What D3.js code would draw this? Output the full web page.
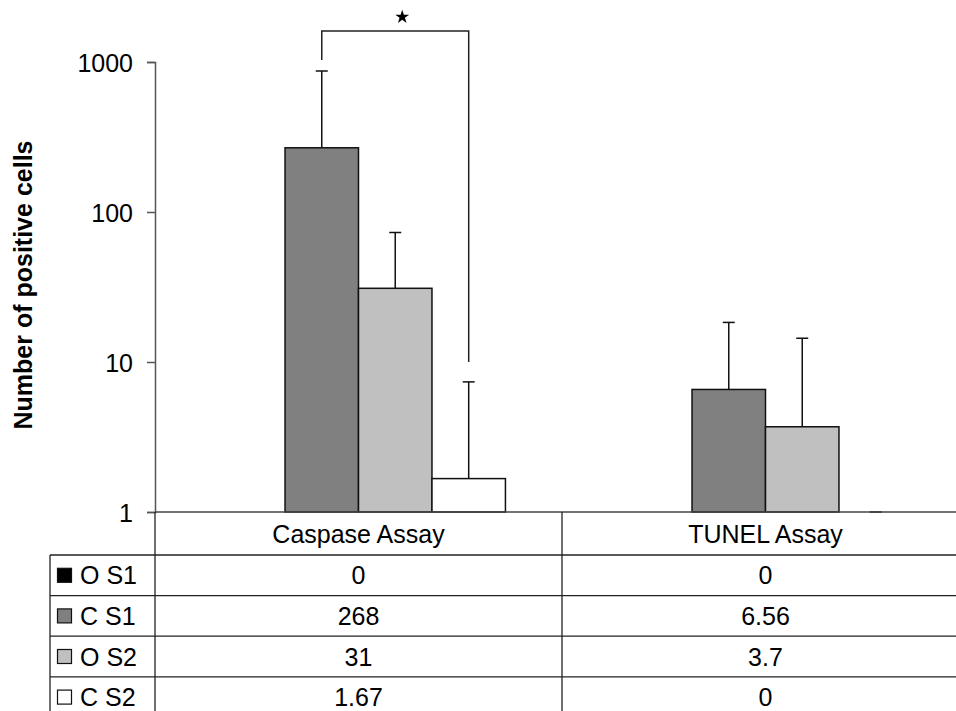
<!DOCTYPE html>
<html>
<head>
<meta charset="utf-8">
<script src="https://cdn.jsdelivr.net/npm/d3@7"></script>
<style>
  body { margin: 0; background: #fff; }
  text { font-family: "Liberation Sans", Arial, sans-serif; fill: #000; }
</style>
</head>
<body>
<svg id="chart" width="956" height="711"></svg>
<script>
// data
const categories = ["Caspase Assay", "TUNEL Assay"]
const series = ["O S1", "C S1", "O S2", "C S2"]
const colors = ["#000000", "#808080", "#c0c0c0", "#ffffff"]
const values = [
  [0, 0],        // O S1
  [268, 6.56],   // C S1
  [31, 3.7],     // O S2
  [1.67, 0]      // C S2
]
const tableLabels = [
  ["0", "0"],
  ["268", "6.56"],
  ["31", "3.7"],
  ["1.67", "0"]
]
// upper error amounts (null = no bar)
const errors = [
  [null, null],
  [603, 11.8],
  [42, 10.7],
  [5.7, 0]
]
const yTicks = [1, 10, 100, 1000]
// significance bracket: from C S1 to C S2 in Caspase
const bracket = { cat: "Caspase Assay", from: "C S1", to: "C S2", top: 1610, leftEnd: 1030, rightEnd: 10 }

const svg = d3.select("#chart")
const margin = { left: 155, right: -13, top: 62, bottom: 199 }
const W = 956, H = 711
const axisY = H - margin.bottom
const fs = "25px"

const x0 = d3.scaleBand().domain(categories).range([margin.left, W - margin.right])
const x1 = d3.scaleBand().domain(series).range([0, x0.bandwidth()]).paddingInner(0).paddingOuter(0.77)
const y = d3.scaleLog().domain([1, 1000]).range([axisY, margin.top]).clamp(true)
const yFree = y.copy().clamp(false)

// y axis
const yAxis = d3.axisLeft(y).tickValues(yTicks).tickFormat(d3.format("d")).tickSize(8).tickPadding(14)
const gy = svg.append("g").attr("transform", `translate(${margin.left},0)`).call(yAxis)
gy.select(".domain").attr("stroke", "#555").attr("stroke-width", 1.5)
gy.selectAll(".tick line").attr("stroke", "#555").attr("stroke-width", 1.5)
gy.selectAll(".tick text").style("font-size", fs).attr("dy", "0.36em")

svg.append("text")
  .attr("transform", `translate(32,${(axisY + margin.top) / 2 - 2}) rotate(-90)`)
  .attr("text-anchor", "middle")
  .style("font-size", fs).style("font-weight", "bold")
  .text("Number of positive cells")

// bars
const groups = svg.append("g").selectAll("g")
  .data(categories).join("g")
  .attr("transform", d => `translate(${x0(d)},0)`)

groups.selectAll("rect")
  .data((c, ci) => series.map((s, si) => ({ s, si, v: values[si][ci] })).filter(d => d.v > 0))
  .join("rect")
  .attr("x", d => x1(d.s))
  .attr("width", x1.bandwidth())
  .attr("y", d => y(d.v))
  .attr("height", d => axisY - y(d.v))
  .attr("fill", d => colors[d.si])
  .attr("stroke", "#111").attr("stroke-width", 1.5)

// error bars (upper only)
const errData = (c, ci) => series.map((s, si) => ({ s, v: values[si][ci], e: errors[si][ci] })).filter(d => d.e !== null)
const eg = groups.selectAll("g.err").data(errData).join("g").attr("class", "err")
eg.append("line")
  .attr("x1", d => x1(d.s) + x1.bandwidth() / 2)
  .attr("x2", d => x1(d.s) + x1.bandwidth() / 2)
  .attr("y1", d => y(Math.max(d.v, 1)))
  .attr("y2", d => y(Math.max(d.v + d.e, 1)))
  .attr("stroke", "#111").attr("stroke-width", 1.5)
eg.append("line")
  .attr("x1", d => x1(d.s) + x1.bandwidth() / 2 - 6)
  .attr("x2", d => x1(d.s) + x1.bandwidth() / 2 + 6)
  .attr("y1", d => y(Math.max(d.v + d.e, 1)))
  .attr("y2", d => y(Math.max(d.v + d.e, 1)))
  .attr("stroke", "#111").attr("stroke-width", 1.5)

// axis baseline across the plot
svg.append("line")
  .attr("x1", margin.left).attr("x2", W)
  .attr("y1", axisY).attr("y2", axisY)
  .attr("stroke", "#444").attr("stroke-width", 1.5)

// significance bracket
const bx1 = x0(bracket.cat) + x1(bracket.from) + x1.bandwidth() / 2
const bx2 = x0(bracket.cat) + x1(bracket.to) + x1.bandwidth() / 2
svg.append("path")
  .attr("d", `M${bx1},${yFree(bracket.leftEnd)}V${yFree(bracket.top)}H${bx2}V${y(bracket.rightEnd)}`)
  .attr("fill", "none").attr("stroke", "#222").attr("stroke-width", 1.5)
svg.append("path")
  .attr("d", d3.symbol(d3.symbolStar, 60)())
  .attr("transform", `translate(${(bx1 + bx2) / 2 + 7},${yFree(bracket.top) - 14})`)
  .attr("fill", "#000")

// data table
const tableTop = axisY + 43
const rowH = 40.6
const legendLeft = 50
const tbl = svg.append("g").attr("stroke", "#222").attr("stroke-width", 1.3)
categories.forEach(c => {
  tbl.append("line").attr("x1", x0(c)).attr("x2", x0(c)).attr("y1", axisY).attr("y2", H)
})
tbl.append("line").attr("x1", legendLeft).attr("x2", legendLeft).attr("y1", tableTop).attr("y2", H)
series.forEach((s, i) => {
  tbl.append("line").attr("x1", legendLeft).attr("x2", W)
    .attr("y1", tableTop + i * rowH).attr("y2", tableTop + i * rowH)
})

svg.selectAll("text.cat").data(categories).join("text")
  .attr("class", "cat")
  .attr("x", d => x0(d) + x0.bandwidth() / 2)
  .attr("y", (axisY + tableTop) / 2)
  .attr("dy", "0.36em").attr("text-anchor", "middle")
  .style("font-size", fs)
  .text(d => d)

series.forEach((s, si) => {
  const cy = tableTop + si * rowH + rowH / 2
  svg.append("rect")
    .attr("x", 57.5).attr("y", cy - 7).attr("width", 14).attr("height", 14)
    .attr("fill", colors[si]).attr("stroke", "#111").attr("stroke-width", 1.2)
  svg.append("text")
    .attr("x", 80).attr("y", cy).attr("dy", "0.36em")
    .style("font-size", fs).text(s)
  categories.forEach((c, ci) => {
    svg.append("text")
      .attr("x", x0(c) + x0.bandwidth() / 2).attr("y", cy).attr("dy", "0.36em")
      .attr("text-anchor", "middle").style("font-size", fs)
      .text(tableLabels[si][ci])
  })
})
</script>
</body>
</html>
